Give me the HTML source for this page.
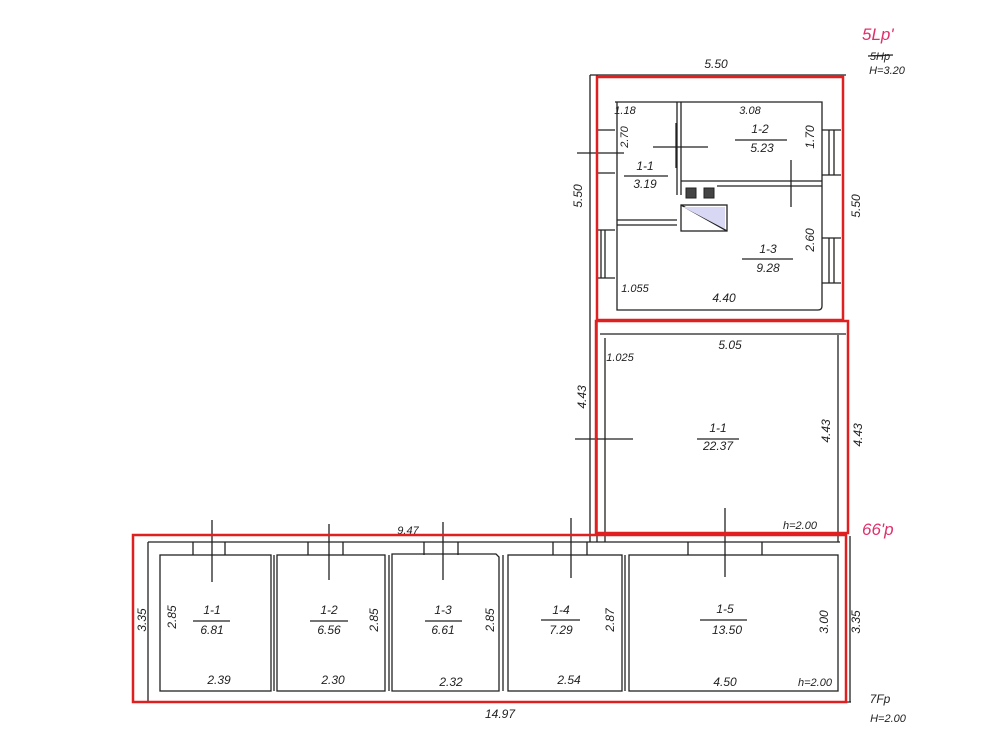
<!DOCTYPE html>
<html><head><meta charset="utf-8"><style>
html,body{margin:0;padding:0;background:#fff;}
svg{display:block;}
text{font-family:"Liberation Sans",sans-serif;font-style:italic;fill:#222;}
</style></head><body>
<svg width="985" height="742" viewBox="0 0 985 742" xmlns="http://www.w3.org/2000/svg">
<g stroke="#222" stroke-width="1.3" fill="none">
<line x1="590" y1="75" x2="846" y2="75"/>
<line x1="590" y1="75" x2="590" y2="542"/>
<line x1="597" y1="75" x2="597" y2="542"/>
<path d="M615 102 H822 V306 Q822 310 818 310 H617 V102"/>
<line x1="677" y1="102" x2="677" y2="195"/>
<line x1="681" y1="102" x2="681" y2="195"/>
<path d="M681 181 H822"/>
<path d="M717 186 H822"/>
<line x1="617" y1="220" x2="677" y2="220"/>
<line x1="617" y1="225" x2="677" y2="225"/>
<rect x="681" y="205" width="46" height="26"/>
<line x1="681" y1="205" x2="727" y2="231"/>
<line x1="653" y1="147" x2="708" y2="147"/>
<line x1="676" y1="123" x2="676" y2="168"/>
<line x1="791" y1="160" x2="791" y2="207"/>
<line x1="577" y1="153" x2="624" y2="153"/>
<path d="M822 130 H841 M822 175 H841 M829 130 V175 M834 130 V175"/>
<path d="M822 238 H841 M822 283 H841 M829 238 V283 M834 238 V283"/>
<path d="M597 230 H615 M597 278 H615 M601 230 V278 M605 230 V278"/>
<path d="M597 130 H615 M597 173 H615"/>
<line x1="600" y1="334" x2="846" y2="334"/>
<line x1="605" y1="338" x2="605" y2="542"/>
<line x1="838" y1="335" x2="838" y2="542"/>
<line x1="575" y1="439" x2="633" y2="439"/>
<line x1="725" y1="508" x2="725" y2="577"/>
<line x1="148" y1="542" x2="148" y2="702"/>
<line x1="148" y1="542" x2="840" y2="542"/>
<line x1="150" y1="702" x2="851" y2="702"/>
<line x1="850" y1="536" x2="850" y2="702"/>
<rect x="160" y="555" width="111" height="136"/>
<rect x="277" y="555" width="108" height="136"/>
<path d="M392 554 H496 L499 557 V691 H392 Z"/>
<rect x="508" y="555" width="114" height="136"/>
<rect x="629" y="555" width="209" height="136"/>
<path d="M274 555 V691 M389 555 V691 M503 555 V691 M625 555 V691"/>
<path d="M193 542 V555 M225 542 V555 M308 542 V555 M343 542 V555 M424 542 V555 M458 542 V555 M553 542 V555 M587 542 V555 M688 542 V555 M762 542 V555"/>
<path d="M212 520 V582 M329 524 V580 M443 522 V580 M571 518 V578"/>
<line x1="868" y1="56" x2="893" y2="55"/>
</g>
<g fill="#444" stroke="#222">
<rect x="686" y="188" width="10" height="10"/><rect x="704" y="188" width="10" height="10"/>
</g>
<polygon points="683,207 725,207 725,229" fill="#d8d8f4"/>
<g stroke="#222" stroke-width="1.2">
<line x1="624" y1="176" x2="668" y2="176"/>
<line x1="735" y1="140" x2="787" y2="140"/>
<line x1="742" y1="259" x2="793" y2="259"/>
<line x1="697" y1="439" x2="739" y2="439"/>
<line x1="193" y1="621" x2="230" y2="621"/>
<line x1="310" y1="621" x2="348" y2="621"/>
<line x1="425" y1="621" x2="462" y2="621"/>
<line x1="541" y1="620" x2="580" y2="620"/>
<line x1="700" y1="620" x2="747" y2="620"/>
</g>
<g font-size="12" text-anchor="middle">
<text x="716" y="68">5.50</text>
<text x="625" y="114" font-size="11">1.18</text>
<text x="750" y="114" font-size="11">3.08</text>
<text x="645" y="170">1-1</text><text x="645" y="188">3.19</text>
<text x="760" y="133">1-2</text><text x="762" y="152">5.23</text>
<text x="768" y="253">1-3</text><text x="768" y="272">9.28</text>
<text x="724" y="302">4.40</text>
<text x="635" y="292" font-size="11">1.055</text>
<text x="730" y="349">5.05</text>
<text x="620" y="361" font-size="11">1.025</text>
<text x="718" y="432">1-1</text><text x="718" y="450">22.37</text>
<text x="800" y="529" font-size="11">h=2.00</text>
<text x="408" y="534" font-size="11">9.47</text>
<text x="212" y="614">1-1</text><text x="212" y="634">6.81</text>
<text x="329" y="614">1-2</text><text x="329" y="634">6.56</text>
<text x="443" y="614">1-3</text><text x="443" y="634">6.61</text>
<text x="561" y="614">1-4</text><text x="561" y="634">7.29</text>
<text x="725" y="613">1-5</text><text x="727" y="634">13.50</text>
<text x="219" y="684">2.39</text><text x="333" y="684">2.30</text>
<text x="451" y="686">2.32</text><text x="569" y="684">2.54</text>
<text x="725" y="686">4.50</text><text x="815" y="686" font-size="11">h=2.00</text>
<text x="500" y="718">14.97</text>
<text x="887" y="74" font-size="11">H=3.20</text>
<text x="880" y="60" font-size="11">5Hp</text>
<text x="888" y="722" font-size="11">H=2.00</text>
<text x="880" y="703">7Fp</text>
</g>
<g font-size="12" text-anchor="middle">
<text transform="translate(582,196) rotate(-90)">5.50</text>
<text transform="translate(860,206) rotate(-90)">5.50</text>
<text transform="translate(628,137) rotate(-90)" font-size="11">2.70</text>
<text transform="translate(814,137) rotate(-90)">1.70</text>
<text transform="translate(814,240) rotate(-90)">2.60</text>
<text transform="translate(586,397) rotate(-90)">4.43</text>
<text transform="translate(830,431) rotate(-90)">4.43</text>
<text transform="translate(862,435) rotate(-90)">4.43</text>
<text transform="translate(146,620) rotate(-90)">3.35</text>
<text transform="translate(176,617) rotate(-90)">2.85</text>
<text transform="translate(378,620) rotate(-90)">2.85</text>
<text transform="translate(494,620) rotate(-90)">2.85</text>
<text transform="translate(614,620) rotate(-90)">2.87</text>
<text transform="translate(828,622) rotate(-90)">3.00</text>
<text transform="translate(860,622) rotate(-90)">3.35</text>
</g>
<text x="862" y="40" font-size="17" style="fill:#e0306a">5Lp'</text>
<text x="862" y="535" font-size="17" style="fill:#e0306a">66'p</text>
<g stroke="#e02020" stroke-width="2.5" fill="none">
<rect x="597" y="77" width="246" height="243"/>
<rect x="596" y="321" width="252" height="212"/>
<rect x="133" y="535" width="713" height="167"/>
</g>
</svg>
</body></html>
